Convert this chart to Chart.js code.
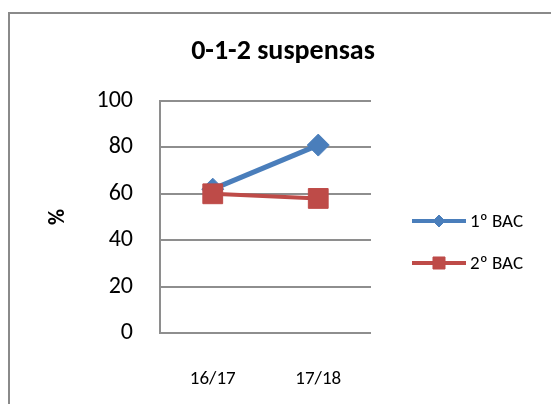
<!DOCTYPE html>
<html>
<head>
<meta charset="utf-8">
<script src="https://cdn.jsdelivr.net/npm/chart.js@4.4.0/dist/chart.umd.min.js"></script>
<style>
  html, body { margin: 0; padding: 0; background: #fff; }
  #wrap { width: 551px; height: 404px; }
</style>
</head>
<body>
<div id="wrap"><canvas id="chart" width="551" height="404"></canvas></div>
<script>
const FONT = "Carlito, Lato, 'Liberation Sans', sans-serif";

// school years and share of students with 0-1-2 failed subjects
const years = ['16/17', '17/18'];
const bac1 = [62, 81];
const bac2 = [60, 58];
const yTicks = [0, 20, 40, 60, 80, 100];
const chartTitle = '0-1-2 suspensas';

const BLUE = '#4a7ebb';
const RED = '#be4b48';

// frame, title and legend (the title sits centred on the whole frame, not the plot)
const frameAndLegend = {
  id: 'frameAndLegend',
  beforeDraw(chart) {
    const ctx = chart.ctx;
    ctx.save();
    ctx.strokeStyle = '#8a8a8a';
    ctx.lineWidth = 2;
    ctx.beginPath();
    ctx.moveTo(9, 404);
    ctx.lineTo(9, 13);
    ctx.lineTo(551, 13);
    ctx.stroke();

    ctx.fillStyle = '#000';
    ctx.font = 'bold 28px ' + FONT;
    ctx.textAlign = 'center';
    ctx.textBaseline = 'middle';
    ctx.fillText(chartTitle, 283, 52);
    ctx.restore();
  },
  afterDraw(chart) {
    const ctx = chart.ctx;
    const items = [
      { label: chart.data.datasets[0].label, color: BLUE, style: 'rectRot', r: 6, y: 221 },
      { label: chart.data.datasets[1].label, color: RED, style: 'rect', r: 8.5, y: 263 }
    ];
    ctx.save();
    items.forEach(it => {
      ctx.strokeStyle = it.color;
      ctx.lineWidth = 4;
      ctx.beginPath();
      ctx.moveTo(412, it.y);
      ctx.lineTo(466, it.y);
      ctx.stroke();
      ctx.fillStyle = it.color;
      ctx.lineWidth = 1;
      Chart.helpers.drawPoint(ctx, { pointStyle: it.style, radius: it.r, borderWidth: 1 }, 439, it.y);
      ctx.fillStyle = '#000';
      ctx.font = '19px ' + FONT;
      ctx.textBaseline = 'middle';
      ctx.fillText(it.label, 470, it.y + 1);
    });
    ctx.restore();
  }
};

new Chart(document.getElementById('chart'), {
  type: 'line',
  data: {
    labels: years,
    datasets: [
      {
        label: '1º BAC',
        data: bac1,
        borderColor: BLUE,
        backgroundColor: BLUE,
        borderWidth: 5,
        pointStyle: 'rectRot',
        pointRadius: 11,
        pointBorderWidth: 1,
        tension: 0,
        order: 1
      },
      {
        label: '2º BAC',
        data: bac2,
        borderColor: RED,
        backgroundColor: RED,
        borderWidth: 4,
        pointStyle: 'rect',
        pointRadius: 14,
        pointBorderWidth: 1,
        tension: 0,
        order: 0
      }
    ]
  },
  options: {
    responsive: false,
    animation: false,
    layout: { padding: { left: 20, right: 180, top: 101, bottom: 0 } },
    plugins: {
      legend: { display: false },
      tooltip: { enabled: false },
      title: { display: false }
    },
    scales: {
      x: {
        offset: true,
        grid: { display: false },
        border: { display: false },
        ticks: { color: '#000', padding: 27, font: { family: FONT, size: 19 } },
        afterFit(scale) { scale.height = 71; }
      },
      y: {
        min: 0,
        max: 100,
        afterBuildTicks(scale) { scale.ticks = yTicks.map(v => ({ value: v })); },
        grid: { color: '#8e8e8e', lineWidth: 2, drawTicks: false },
        border: { color: '#8e8e8e', width: 2 },
        ticks: { color: '#000', padding: 27, font: { family: FONT, size: 24 } },
        title: {
          display: true,
          text: '%',
          color: '#000',
          font: { family: FONT, size: 22, weight: 'bold' },
          padding: { top: 25 }
        },
        afterFit(scale) { scale.width = 140; }
      }
    }
  },
  plugins: [frameAndLegend]
});
</script>
</body>
</html>
